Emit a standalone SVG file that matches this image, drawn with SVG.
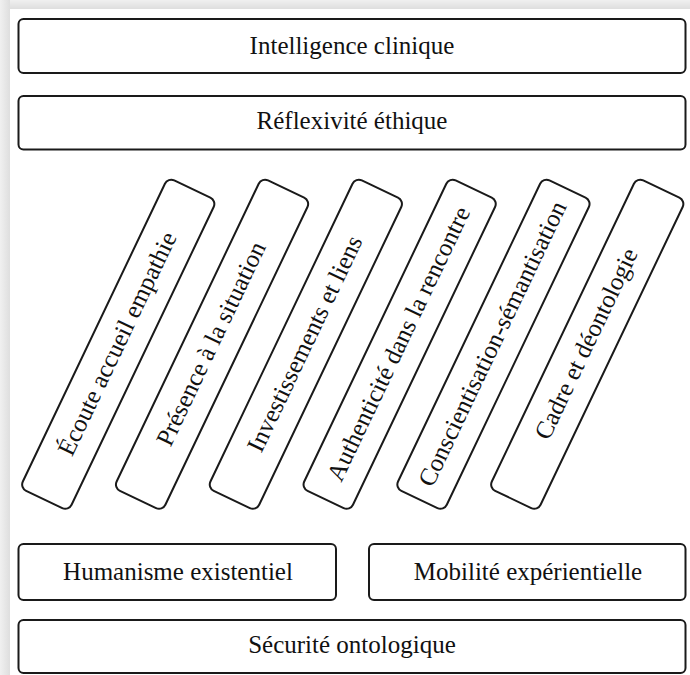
<svg xmlns="http://www.w3.org/2000/svg" width="690" height="675" viewBox="0 0 690 675">
  <defs>
    <linearGradient id="shTop" x1="0" y1="0" x2="0" y2="1">
      <stop offset="0" stop-color="#f0f0f0"/>
      <stop offset="1" stop-color="#dedede"/>
    </linearGradient>
    <linearGradient id="shLeft" x1="0" y1="0" x2="1" y2="0">
      <stop offset="0" stop-color="#f0f0f0"/>
      <stop offset="1" stop-color="#dedede"/>
    </linearGradient>
  </defs>
  <style>
    .box { fill: #ffffff; stroke: #1a1a1a; stroke-width: 2; }
    .lbl { font-family: "Liberation Serif", "DejaVu Serif", serif; font-size: 25px; fill: #111111; text-anchor: middle; }
  </style>
  <rect x="0" y="0" width="690" height="675" fill="#ffffff"/>
  <rect x="0" y="0" width="690" height="9" fill="url(#shTop)"/>
  <rect x="0" y="0" width="10" height="675" fill="url(#shLeft)"/>

  <g id="intelligence-clinique">
    <rect class="box" x="18.5" y="19" width="667" height="54" rx="5"/>
    <text class="lbl" x="352" y="53.5">Intelligence clinique</text>
  </g>
  <g id="reflexivite-ethique">
    <rect class="box" x="18.5" y="96" width="667" height="53.5" rx="5"/>
    <text class="lbl" x="352" y="129">Réflexivité éthique</text>
  </g>

  <g id="ecoute" transform="translate(118.25 344.25) rotate(-64.5)">
    <rect class="box" x="-172" y="-27" width="344" height="54" rx="7"/>
    <text class="lbl" x="0" y="7">Écoute accueil empathie</text>
  </g>
  <g id="presence" transform="translate(212.05 344.25) rotate(-64.5)">
    <rect class="box" x="-172" y="-27" width="344" height="54" rx="7"/>
    <text class="lbl" x="0" y="7">Présence à la situation</text>
  </g>
  <g id="investissements" transform="translate(305.85 344.25) rotate(-64.5)">
    <rect class="box" x="-172" y="-27" width="344" height="54" rx="7"/>
    <text class="lbl" x="0" y="7">Investissements et liens</text>
  </g>
  <g id="authenticite" transform="translate(399.65 344.25) rotate(-64.5)">
    <rect class="box" x="-172" y="-27" width="344" height="54" rx="7"/>
    <text class="lbl" x="0" y="7">Authenticité dans la rencontre</text>
  </g>
  <g id="conscientisation" transform="translate(493.45 344.25) rotate(-64.5)">
    <rect class="box" x="-172" y="-27" width="344" height="54" rx="7"/>
    <text class="lbl" x="0" y="7">Conscientisation-sémantisation</text>
  </g>
  <g id="cadre" transform="translate(587.25 344.25) rotate(-64.5)">
    <rect class="box" x="-172" y="-27" width="344" height="54" rx="7"/>
    <text class="lbl" x="0" y="7">Cadre et déontologie</text>
  </g>

  <g id="humanisme-existentiel">
    <rect class="box" x="18.5" y="544" width="317.5" height="56" rx="5"/>
    <text class="lbl" x="178" y="580">Humanisme existentiel</text>
  </g>
  <g id="mobilite-experientielle">
    <rect class="box" x="369" y="544" width="316.5" height="56" rx="5"/>
    <text class="lbl" x="528" y="580">Mobilité expérientielle</text>
  </g>
  <g id="securite-ontologique">
    <rect class="box" x="18.5" y="620" width="667" height="53" rx="5"/>
    <text class="lbl" x="352" y="652.5">Sécurité ontologique</text>
  </g>

  <g id="connectors"></g>
</svg>
